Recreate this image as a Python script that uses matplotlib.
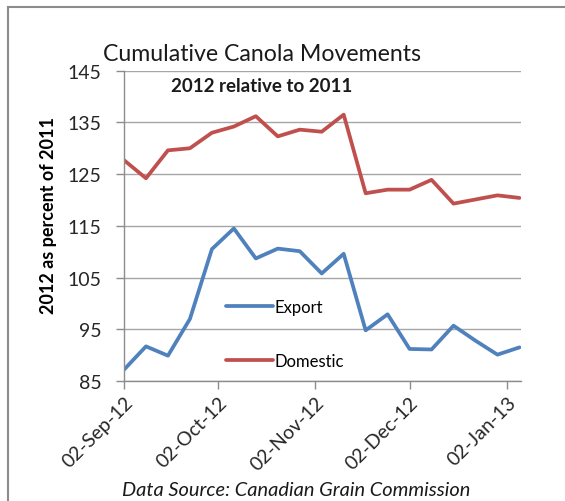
import numpy as np
import pandas as pd

import matplotlib
matplotlib.use('Agg')
import matplotlib.pyplot as plt
import matplotlib.dates as mdates
from matplotlib.lines import Line2D

# Weekly cumulative movements, 2012 as percent of 2011.
week_dates = [
    '2012-09-02', '2012-09-09', '2012-09-16', '2012-09-23', '2012-09-30',
    '2012-10-07', '2012-10-14', '2012-10-21', '2012-10-28', '2012-11-04',
    '2012-11-11', '2012-11-18', '2012-11-25', '2012-12-02', '2012-12-09',
    '2012-12-16', '2012-12-23', '2012-12-30', '2013-01-06',
]
export_pct = [
    87.2, 91.7, 89.9, 97.0, 110.5, 114.5, 108.7, 110.6, 110.1, 105.8,
    109.6, 94.8, 97.9, 91.2, 91.1, 95.7, 92.8, 90.1, 91.5,
]
domestic_pct = [
    127.7, 124.2, 129.6, 130.0, 133.0, 134.2, 136.2, 132.3, 133.6, 133.2,
    136.5, 121.3, 122.0, 122.0, 123.9, 119.3, 120.1, 120.9, 120.4,
]
tick_dates = ['2012-09-02', '2012-10-02', '2012-11-02', '2012-12-02', '2013-01-02']
y_ticks = [85, 95, 105, 115, 125, 135, 145]

plt.rcParams['font.family'] = ['Lato', 'DejaVu Sans']

dates = pd.to_datetime(week_dates)

fig = plt.figure(figsize=(5.65, 5.02), dpi=100)
ax = fig.add_axes([0.2195, 0.239, 0.7026, 0.6182])

ax.plot(dates, export_pct, color='#4F81BD', lw=2.7, label='Export',
        solid_joinstyle='round', solid_capstyle='round')
ax.plot(dates, domestic_pct, color='#C0504D', lw=2.7, label='Domestic',
        solid_joinstyle='round', solid_capstyle='round')

ax.set_ylim(85, 145)
ax.set_yticks(y_ticks)
ax.set_xlim(dates[0], dates[-1] + pd.Timedelta(hours=12))
ax.set_xticks(pd.to_datetime(tick_dates))
ax.xaxis.set_major_formatter(mdates.DateFormatter('%d-%b-%y'))

ax.grid(axis='y', color='#A6A6A6', lw=1.0)
ax.set_axisbelow(True)
for side in ['top', 'right']:
    ax.spines[side].set_visible(False)
for side in ['left', 'bottom']:
    ax.spines[side].set_color('#8C8C8C')
    ax.spines[side].set_linewidth(1.0)

ax.tick_params(axis='both', colors='#8C8C8C', length=6, width=1.0,
               labelcolor='#262626', labelsize=14)
ax.tick_params(axis='y', pad=10)
ax.tick_params(axis='x', pad=3)
plt.setp(ax.get_xticklabels(), rotation=45, ha='right', rotation_mode='anchor')

ax.set_ylabel('2012 as percent of 2011', fontsize=13, fontweight='bold')
ax.yaxis.set_label_coords(-0.17, 0.538)

ax.legend(loc='upper left', bbox_to_anchor=(0.22, 0.313), frameon=False,
          fontsize=12, handlelength=2.8, handletextpad=0.1, labelspacing=2.3)

fig.text(0.463, 0.879, 'Cumulative Canola Movements', ha='center',
         va='baseline', fontsize=16.7, color='#1A1A1A')
fig.text(0.463, 0.817, '2012 relative to 2011', ha='center', va='baseline',
         fontsize=13.5, fontweight='bold', color='#1A1A1A')
fig.text(0.524, 0.012, 'Data Source: Canadian Grain Commission', ha='center',
         va='baseline', fontsize=14.4, style='italic', color='#1A1A1A')

# Chart frame edges visible in the reference (left and top).
fig.add_artist(Line2D([8 / 565, 8 / 565], [0, 1 - 8 / 502],
                      transform=fig.transFigure, color='#8C8C8C', lw=1.5))
fig.add_artist(Line2D([8 / 565, 1], [1 - 8 / 502, 1 - 8 / 502],
                      transform=fig.transFigure, color='#8C8C8C', lw=1.5))

fig.savefig('out.png', dpi=100)
